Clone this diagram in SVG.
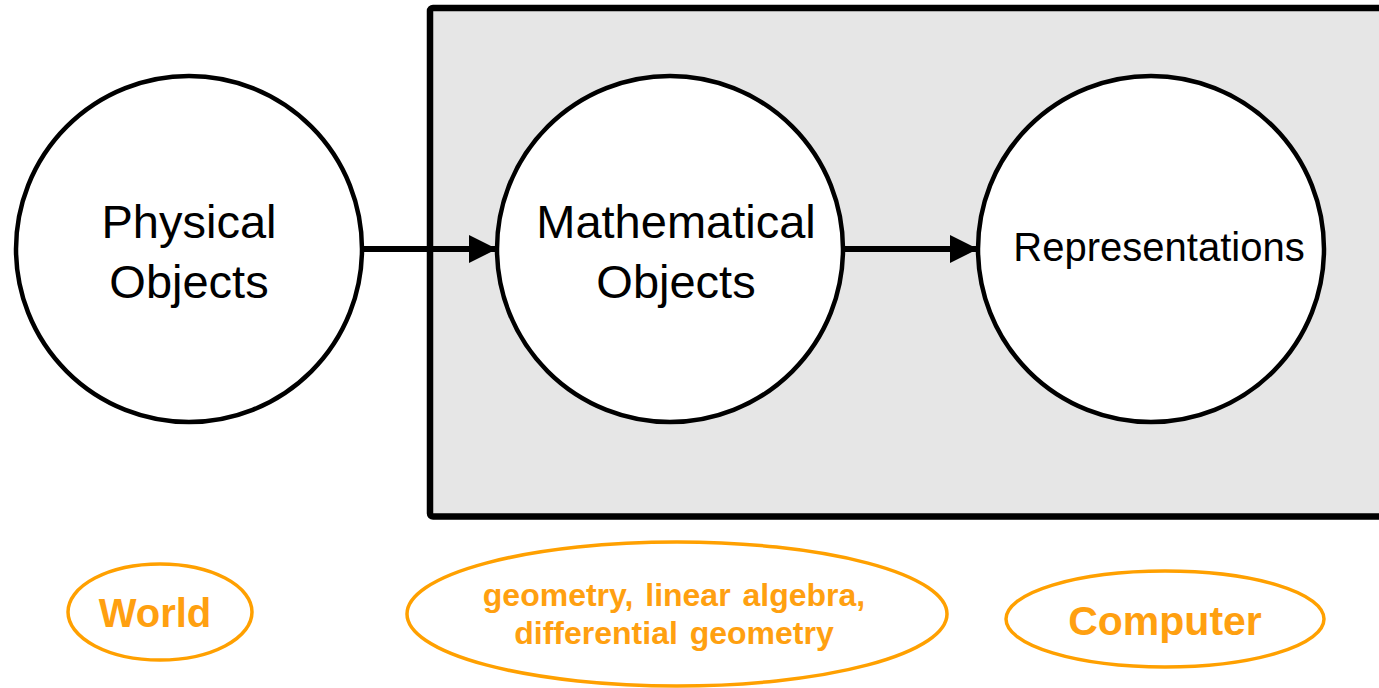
<svg xmlns="http://www.w3.org/2000/svg" width="1379" height="688" viewBox="0 0 1379 688">
<style>
.node{fill:#ffffff;stroke:#000000;stroke-width:4.5}
.lbl{font-family:"Liberation Sans",Arial,sans-serif;fill:#000000;text-anchor:middle}
.tag{fill:none;stroke:#FFA000;stroke-width:3.5}
.tagt{font-family:"Liberation Sans",Arial,sans-serif;font-weight:bold;fill:#FFA010;text-anchor:middle}
.conn{stroke:#000000;stroke-width:6;fill:none}
</style>
<defs>
<marker id="ah" markerUnits="userSpaceOnUse" markerWidth="30" markerHeight="30" refX="28" refY="15" orient="auto">
<path d="M0,1 L28,15 L0,29 Z" fill="#000000"/>
</marker>
</defs>
<rect width="1379" height="688" fill="#ffffff"/>
<g id="frame">
<rect x="430" y="8" width="1000" height="508.5" rx="3" fill="#e6e6e6" stroke="#000000" stroke-width="6.5"/>
</g>
<g id="physical">
<circle class="node" cx="189" cy="249" r="173"/>
<text class="lbl" font-size="47" x="189" y="238">Physical</text>
<text class="lbl" font-size="47" x="189" y="298">Objects</text>
</g>
<g id="mathematical">
<circle class="node" cx="670" cy="249" r="173"/>
<text class="lbl" font-size="47" x="676" y="238">Mathematical</text>
<text class="lbl" font-size="47" x="676" y="298">Objects</text>
</g>
<g id="representations">
<circle class="node" cx="1151" cy="249" r="173"/>
<text class="lbl" font-size="40" x="1159" y="261">Representations</text>
</g>
<g id="connectors">
<line class="conn" x1="363" y1="249" x2="497" y2="249" marker-end="url(#ah)"/>
<line class="conn" x1="844" y1="249" x2="978" y2="249" marker-end="url(#ah)"/>
</g>
<g id="world">
<ellipse class="tag" cx="160" cy="612" rx="92" ry="48"/>
<text class="tagt" font-size="40" x="155" y="627">World</text>
</g>
<g id="math-fields">
<ellipse class="tag" cx="677" cy="614" rx="270" ry="72"/>
<text class="tagt" font-size="32" x="674" y="606" word-spacing="3">geometry, linear algebra,</text>
<text class="tagt" font-size="32" x="674" y="644" word-spacing="3">differential geometry</text>
</g>
<g id="computer">
<ellipse class="tag" cx="1165" cy="619" rx="159" ry="48"/>
<text class="tagt" font-size="41" x="1165" y="635">Computer</text>
</g>
</svg>
